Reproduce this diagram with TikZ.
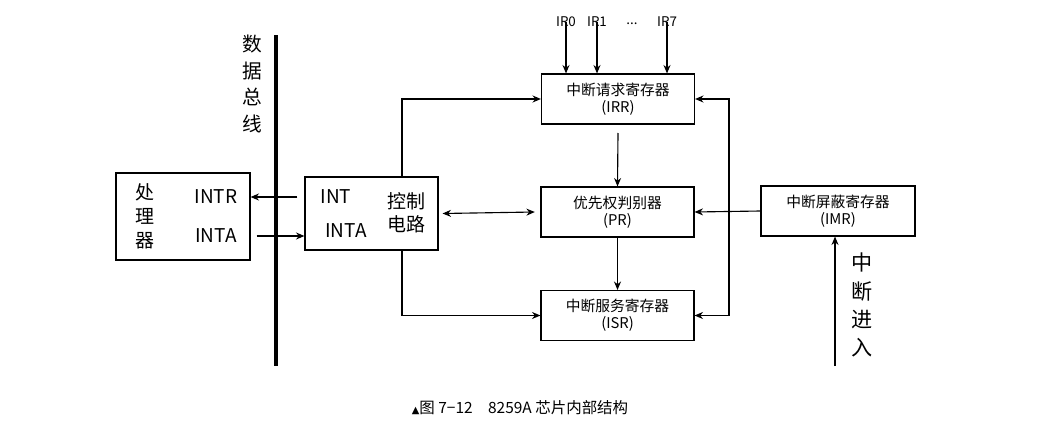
\documentclass[tikz,border=0pt]{standalone}
\usepackage{fontspec}
\setmainfont{Noto Sans CJK SC}
\usetikzlibrary{arrows.meta}
\begin{document}
\begin{tikzpicture}
		[x=0.025cm,y=-0.025cm,line cap=butt,>={Stealth[length=6pt,width=5pt]},
		%Styles
		reg/.style={draw,thick,minimum width=153*0.025cm,minimum height=50*0.025cm,inner sep=0pt,align=center,font=\fontsize{10.5}{12}\selectfont},
		big box/.style={draw,thick,minimum height=#1*0.025cm,inner sep=0pt},
		big text/.style={font=\fontsize{13.5}{15}\selectfont,inner sep=0pt},
		vert text/.style={font=\fontsize{14}{19}\selectfont,align=center,inner sep=0pt},
		small text/.style={font=\fontsize{9.5}{11}\selectfont,inner sep=0pt}
		]
		
		\useasboundingbox (0,0) rectangle (1039,434);
		
		%The graphic
		\node[big box=87,minimum width=134*0.025cm] (cpu) at (183, 216.5) {};
		\node[vert text,font=\fontsize{13.5}{17}\selectfont] (cpulabel) at (145, 216) {处\\理\\器};
		\node[big text] (intr) at (216, 197) {INTR};
		\node[big text] (inta) at (216, 236) {INTA};
		
		\node[big box=73,minimum width=133*0.025cm] (ctrl) at (371.5, 213.5) {};
		\node[big text] (int2) at (336, 197) {INT};
		\node[big text] (inta2) at (346, 231) {INTA};
		\node[big text,align=center,font=\fontsize{13.5}{16}\selectfont] (ctrllabel) at (406, 213) {控制\\电路};
		
		\node[reg] (irr) at (618, 99) {中断请求寄存器\\(IRR)};
		\node[reg] (pr) at (617.5, 212) {优先权判别器\\(PR)};
		\node[reg] (isr) at (617.5, 315.5) {中断服务寄存器\\(ISR)};
		\node[reg,minimum width=154*0.025cm] (imr) at (838, 211) {中断屏蔽寄存器\\(IMR)};
		
		%bus
		\draw[line width=2.5pt] (276, 35) coordinate (bustop) -- (276, 366) coordinate (busbot);
		\node[vert text] (buslabel) at (252, 84) {数\\据\\总\\线};
		
		%IR inputs
		\foreach \name/\x in {IR0/566, IR1/597, IR7/667} {
			\node[small text] (\name) at (\x, 22) {\name};
			\draw[thick,->] (\name.south) ++(0,-5) -- (\name.south |- irr.north);
		}
		\node[small text] (dots) at (632, 24) {...};
		
		%Connections
		\coordinate (ctrlup) at (402, 177);
		\coordinate (ctrldown) at (402, 250);
		\coordinate (fb) at (729, 212);
		\coordinate (intin) at (835, 366);
		
		\draw[thick,->] (ctrl.west |- intr) ++(-7,0) -- (cpu.east |- intr);
		\draw[thick,->] (cpu.east |- inta) ++(6,0) -- (ctrl.west |- inta);
		\draw[thick,<->] (ctrl.east) ++(4,0) -- ([xshift=-4]pr.west);
		\draw[thick,->] (ctrlup) |- (irr.west);
		\draw[thick,->] (ctrldown) |- (isr.west);
		\draw[thick,->] ([yshift=-6]irr.south) -- (pr.north);
		\draw[thick,->] (pr.south) -- (isr.north);
		\draw[thick,->] (fb) |- (irr.east);
		\draw[thick,->] (fb) |- (isr.east);
		\draw[thick,->] (imr.west) -- (pr.east);
		\draw[thick,->] (intin) -- (intin |- imr.south);
		\node[vert text,font=\fontsize{15}{20}\selectfont] (inlabel) at (862, 305) {中\\断\\进\\入};
		
		%Caption
		\node[font=\fontsize{11}{13}\selectfont] (caption) at (520, 408) {{\fontspec{DejaVu Sans}\scriptsize▲}图 7−12\quad 8259A 芯片内部结构};
	\end{tikzpicture}
\end{document}
